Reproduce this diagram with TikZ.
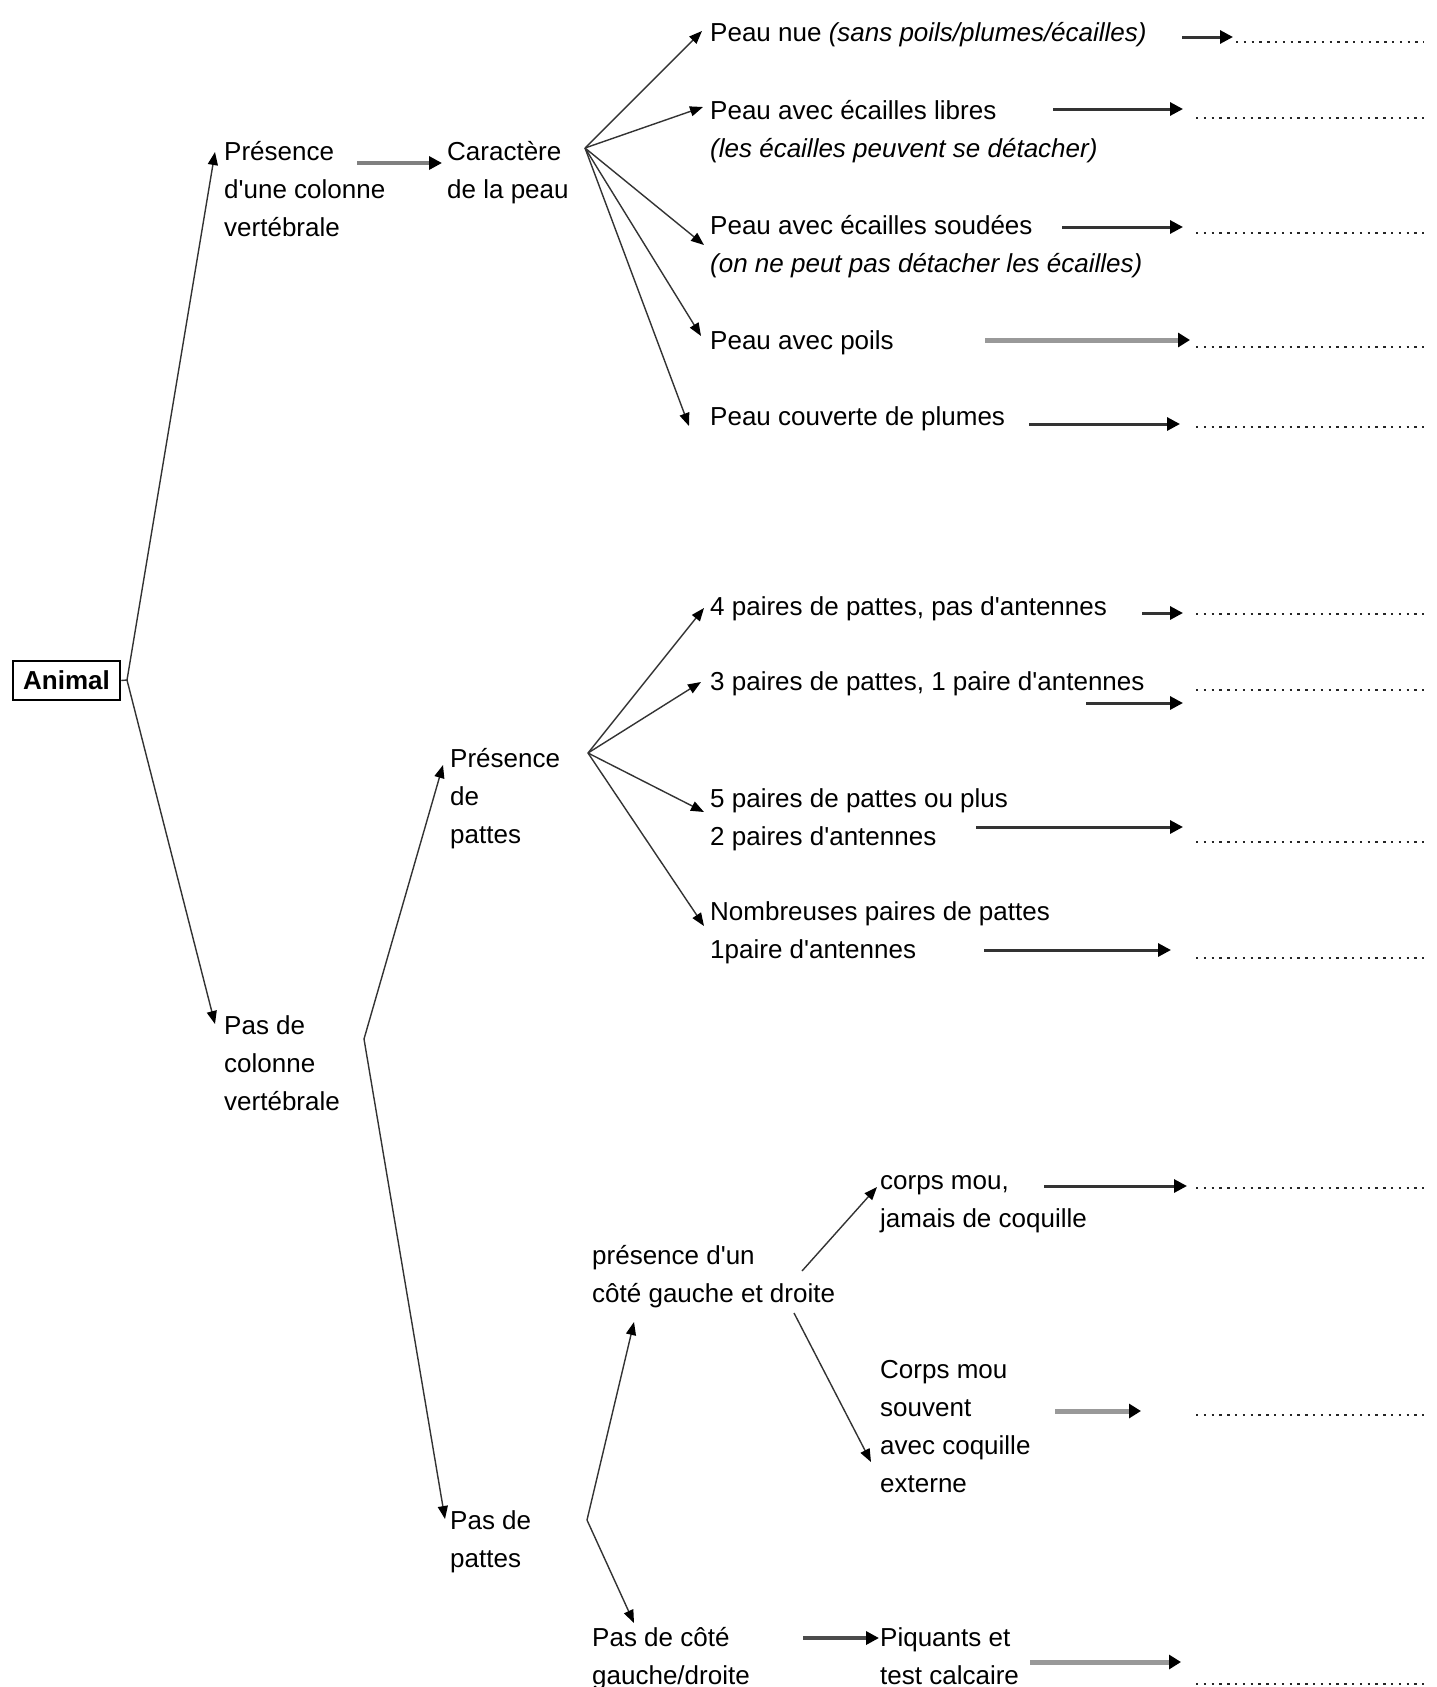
\documentclass[tikz,border=0pt]{standalone}
\usepackage{fontspec}
\setmainfont{Liberation Sans}[Ligatures=TeXOff]
\usetikzlibrary{arrows.meta}
\begin{document}
\begin{tikzpicture}[x=1pt,y=-1pt,
  txt/.style={anchor=base west, inner sep=0pt, align=left, font=\fontsize{26}{38}\selectfont},
  fan/.style={draw=black!80, line width=1.4pt, -{Triangle[length=13pt,width=10pt,color=black]}},
  plain/.style={draw=black!80, line width=1.4pt},
  harr/.style={draw=black!80, line width=3pt, -{Triangle[length=13pt,width=13pt,color=black]}},
  garr/.style={draw=black!40, line width=5pt, -{Triangle[length=12pt,width=14pt,color=black]}},
  marr/.style={draw=black!50, line width=3.5pt, -{Triangle[length=13pt,width=13pt,color=black]}},
  dots/.style={draw=black!85, line width=2.6pt, dash pattern=on 2.4pt off 5.4pt}]
\fill[white] (0,0) rectangle (1436,1687);
\useasboundingbox (0,0) rectangle (1436,1687);

% root
\node[draw=black, line width=2.5pt, minimum width=107pt, minimum height=39pt, inner sep=0pt,
      font=\fontsize{26}{30}\selectfont\bfseries] (animal) at (66.5,680.5) {Animal};

% texts (anchored at the baseline of their last line)
\node[txt] (pres) at (224,236) {Présence\\d'une colonne\\vertébrale};
\node[txt] (car) at (447,198) {Caractère\\de la peau};
\node[txt] (nue) at (710,41) {Peau nue \textit{(sans poils/plumes/écailles)}};
\node[txt] (libres) at (710,157) {Peau avec écailles libres\\\textit{(les écailles peuvent se détacher)}};
\node[txt] (soudees) at (710,272) {Peau avec écailles soudées\\\textit{(on ne peut pas détacher les écailles)}};
\node[txt] (poils) at (710,349) {Peau avec poils};
\node[txt] (plumes) at (710,425) {Peau couverte de plumes};

\node[txt] (pasc) at (224,1110) {Pas de\\colonne\\vertébrale};
\node[txt] (prespat) at (450,843) {Présence\\de\\pattes};
\node[txt] (p4) at (710,615) {4 paires de pattes, pas d'antennes};
\node[txt] (p3) at (710,690) {3 paires de pattes, 1 paire d'antennes};
\node[txt] (p5) at (710,845) {5 paires de pattes ou plus\\2 paires d'antennes};
\node[txt] (nomb) at (710,958) {Nombreuses paires de pattes\\1paire d'antennes};

\node[txt] (paspat) at (450,1567) {Pas de\\pattes};
\node[txt] (cote) at (592,1302) {présence d'un\\côté gauche et droite};
\node[txt] (mou1) at (880,1227) {corps mou,\\jamais de coquille};
\node[txt] (mou2) at (880,1492) {Corps mou\\souvent\\avec coquille\\externe};
\node[txt] (pascote) at (592,1684) {Pas de côté\\gauche/droite};
\node[txt] (piq) at (880,1684) {Piquants et\\test calcaire};

% branch points and tips
\coordinate (oA) at (127,680);
\coordinate (tPres) at (215,152);
\coordinate (tPasC) at (215,1024);
\coordinate (oC) at (585,148);
\coordinate (t1) at (702,31);
\coordinate (t2) at (703,107);
\coordinate (t3) at (704,245);
\coordinate (t4) at (701,336);
\coordinate (t5) at (689,426);
\coordinate (oPC) at (364,1039);
\coordinate (tPP) at (443,765);
\coordinate (tPa) at (445,1519);
\coordinate (oP) at (588,753);
\coordinate (u1) at (704,608);
\coordinate (u2) at (701,682);
\coordinate (u3) at (704,812);
\coordinate (u4) at (704,926);
\coordinate (oPP) at (587,1520);
\coordinate (tCo) at (634,1322);
\coordinate (tPCo) at (634,1623);
\coordinate (sM1) at (802,1271);
\coordinate (tM1) at (877,1187);
\coordinate (sM2) at (794,1313);
\coordinate (tM2) at (871,1462);

\draw[plain] (animal.east) -- (oA);
\draw[fan] (oA) -- (tPres);
\draw[fan] (oA) -- (tPasC);
\draw[fan] (oC) -- (t1);
\draw[fan] (oC) -- (t2);
\draw[fan] (oC) -- (t3);
\draw[fan] (oC) -- (t4);
\draw[fan] (oC) -- (t5);
\draw[fan] (oPC) -- (tPP);
\draw[fan] (oPC) -- (tPa);
\draw[fan] (oP) -- (u1);
\draw[fan] (oP) -- (u2);
\draw[fan] (oP) -- (u3);
\draw[fan] (oP) -- (u4);
\draw[fan] (oPP) -- (tCo);
\draw[fan] (oPP) -- (tPCo);
\draw[fan] (sM1) -- (tM1);
\draw[fan] (sM2) -- (tM2);

% horizontal arrows
\coordinate (a0s) at (357,163); \coordinate (a0e) at (442,163);
\draw[marr] (a0s) -- (a0e);

\foreach \s/\e/\y/\d/\dy/\st in {
  1182/1233/37/1236/42/harr,
  1053/1183/109/1196/118/harr,
  1062/1183/227/1196/233/harr,
  985/1190/340/1196/347/garr,
  1029/1180/424/1196/427/harr,
  1142/1183/613/1196/614/harr,
  1086/1183/703/1196/690/harr,
  976/1183/827/1196/842/harr,
  984/1171/950/1196/958/harr,
  1044/1187/1186/1196/1188/harr,
  1055/1141/1411/1196/1415/garr,
  1030/1181/1662/1196/1684/garr}{
  \draw[\st] (\s,\y) -- (\e,\y);
  \draw[dots] (\d,\dy) -- (1424,\dy);
}
\coordinate (pcs) at (803,1638); \coordinate (pce) at (879,1638);
\draw[marr, draw=black!70] (pcs) -- (pce);
\end{tikzpicture}
\end{document}
